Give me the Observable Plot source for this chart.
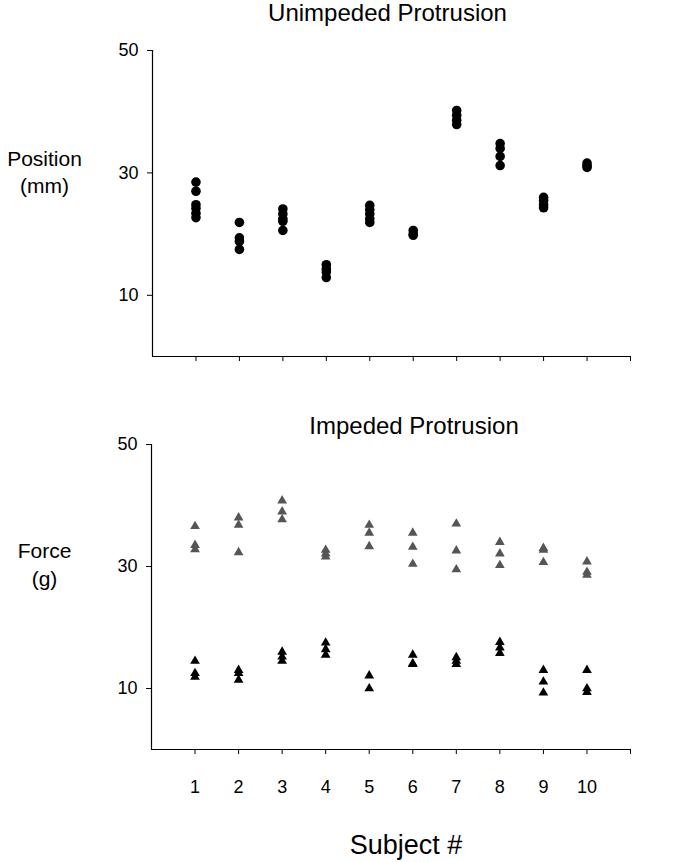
<!DOCTYPE html>
<html>
<head>
<meta charset="utf-8">
<script src="https://cdn.jsdelivr.net/npm/d3@7"></script>
<script src="https://cdn.jsdelivr.net/npm/@observablehq/plot@0.6"></script>
<style>
  body { margin: 0; background: #fff; }
  #chart { position: relative; width: 690px; height: 862px; background: #fff; font-family: "Liberation Sans", Arial, sans-serif; }
  #chart svg { position: absolute; left: 0; }
</style>
</head>
<body>
<div id="chart"></div>
<script>
// ---- data ----
const subjects = [1, 2, 3, 4, 5, 6, 7, 8, 9, 10];
const xTicks = [1, 2, 3, 4, 5, 6, 7, 8, 9, 10, 11];
const yTicks = [10, 30, 50];

// Unimpeded protrusion: position (mm), several trials per subject
const unimpededPosition = [
  [28.5, 27.0, 24.8, 24.2, 23.4, 22.7],
  [21.9, 19.4, 18.8, 17.5],
  [24.1, 23.3, 22.5, 22.1, 20.6],
  [15.0, 14.3, 13.8, 12.9],
  [24.7, 24.0, 23.3, 22.5, 21.9],
  [20.6, 20.0, 19.8],
  [40.2, 39.4, 38.6, 37.9],
  [34.8, 34.0, 32.7, 31.2],
  [26.0, 25.5, 24.8, 24.3],
  [31.6, 31.2, 30.9]
];

// Impeded protrusion: force (g), upper (grey) group
const impededForceHigh = [
  [36.6, 33.5, 32.8],
  [38.0, 36.8, 32.3],
  [40.8, 39.0, 37.7],
  [32.7, 32.1, 31.6],
  [36.8, 35.5, 33.3],
  [35.5, 33.2, 30.4],
  [37.0, 32.6, 29.5],
  [34.0, 32.1, 30.2],
  [33.0, 32.7, 30.7],
  [30.8, 29.1, 28.6]
];

// Impeded protrusion: force (g), lower (black) group
const impededForceLow = [
  [14.5, 12.5, 11.9],
  [13.0, 12.5, 11.4],
  [16.0, 15.2, 14.5],
  [17.5, 16.4, 15.5],
  [12.1, 10.0],
  [15.5, 14.1, 14.0],
  [15.1, 14.5, 14.0],
  [17.6, 16.7, 15.8],
  [13.0, 11.1, 9.3],
  [13.0, 10.0, 9.4]
];

// ---- build tables ----
const toRows = (arr) => subjects.flatMap((s, i) => arr[i].map(v => ({subject: s, value: v})));
const posRows = toRows(unimpededPosition);
const highRows = toRows(impededForceHigh);
const lowRows = toRows(impededForceLow);

const font = '"Liberation Sans", Arial, sans-serif';
const baseStyle = { fontFamily: font, fontSize: "18px", color: "#000", background: "transparent", overflow: "visible" };

const topPlot = Plot.plot({
  width: 690, height: 400,
  marginTop: 50, marginBottom: 44, marginLeft: 152, marginRight: 60,
  style: baseStyle,
  x: { domain: [0, 11], ticks: xTicks, tickFormat: () => "", tickSize: 5, label: null },
  y: { domain: [0, 50], ticks: yTicks, tickSize: 5, tickPadding: 9, label: null },
  marks: [
    Plot.ruleX([0], { stroke: "#000", strokeWidth: 1.2 }),
    Plot.ruleY([0], { stroke: "#000", strokeWidth: 1.2 }),
    Plot.dot(posRows, { x: "subject", y: "value", r: 4.8, fill: "#000", stroke: "none" }),
    Plot.text(["Unimpeded Protrusion"], { frameAnchor: "top", lineAnchor: "middle", dx: -4, dy: -37, fontSize: 24, fill: "#000" }),
    Plot.text(["Position\n(mm)"], { frameAnchor: "left", lineAnchor: "middle", textAnchor: "middle", dx: -108, dy: -33, fontSize: 21, lineHeight: 1.3, fill: "#000" })
  ]
});

const bottomPlot = Plot.plot({
  width: 690, height: 462,
  marginTop: 44, marginBottom: 113, marginLeft: 151, marginRight: 60,
  style: baseStyle,
  x: { domain: [0, 11], ticks: xTicks, tickFormat: d => (d <= 10 ? String(d) : ""), tickSize: 5, tickPadding: 26, label: null },
  y: { domain: [0, 50], ticks: yTicks, tickSize: 5, tickPadding: 9, label: null },
  marks: [
    Plot.ruleX([0], { stroke: "#000", strokeWidth: 1.2 }),
    Plot.ruleY([0], { stroke: "#000", strokeWidth: 1.2 }),
    Plot.dot(highRows, { x: "subject", y: "value", symbol: "triangle", r: 3.6, fill: "#555555", stroke: "none" }),
    Plot.dot(lowRows, { x: "subject", y: "value", symbol: "triangle", r: 3.6, fill: "#000", stroke: "none" }),
    Plot.text(["Impeded Protrusion"], { frameAnchor: "top", lineAnchor: "middle", dx: 23, dy: -18, fontSize: 24, fill: "#000" }),
    Plot.text(["Force\n(g)"], { frameAnchor: "left", lineAnchor: "middle", textAnchor: "middle", dx: -107, dy: -34, fontSize: 21, lineHeight: 1.35, fill: "#000" }),
    Plot.text(["Subject #"], { frameAnchor: "bottom", lineAnchor: "middle", dx: 15, dy: 96, fontSize: 27, fill: "#000" })
  ]
});

const chart = document.getElementById("chart");
topPlot.style.top = "0px";
bottomPlot.style.top = "400px";
chart.appendChild(topPlot);
chart.appendChild(bottomPlot);
</script>
</body>
</html>
